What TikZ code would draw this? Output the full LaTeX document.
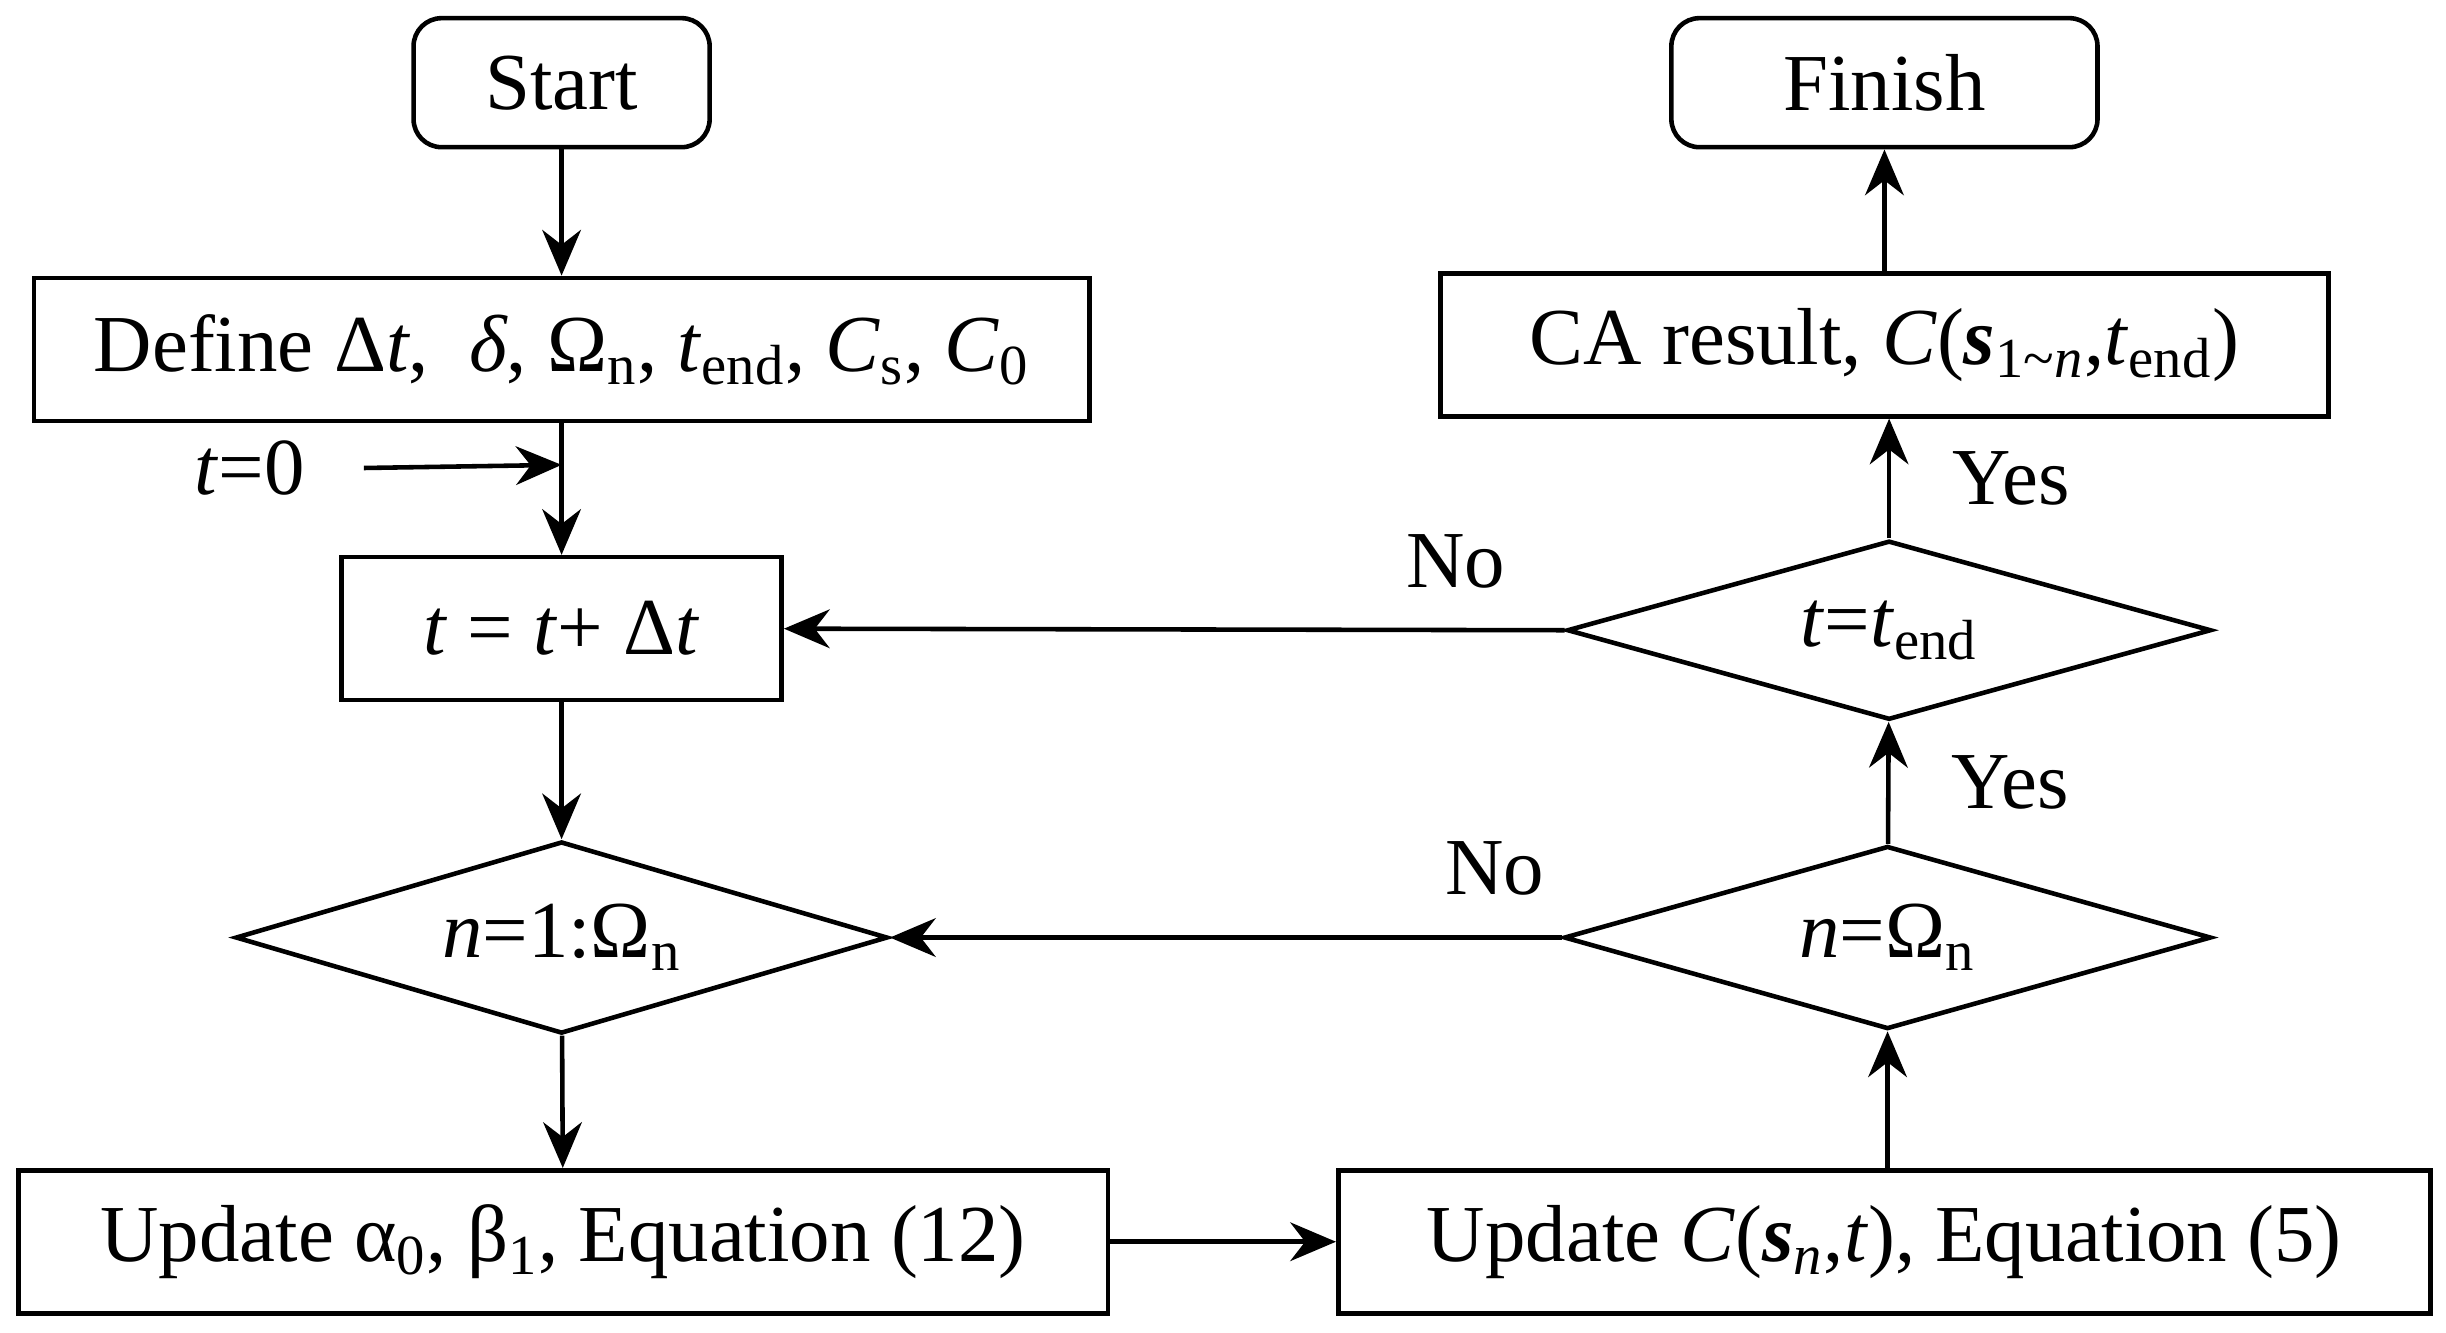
\documentclass[tikz,border=0pt]{standalone}
\usepackage{fontspec}
\setmainfont{Liberation Serif}
\usetikzlibrary{shapes.geometric,arrows.meta}
\newcommand{\ii}[1]{\textit{#1}}
\newcommand{\sbs}[1]{\textsubscript{#1}}
\begin{document}
\begin{tikzpicture}[x=0.0156cm,y=-0.0156cm,
  every node/.style={font=\fontsize{23}{27}\selectfont},
  box/.style={draw,line width=1.3pt,inner sep=0pt,minimum height=1.43cm},
  rbox/.style={box,rounded corners=8pt,minimum height=1.29cm},
  dia/.style={draw,line width=1.3pt,diamond,inner sep=0pt,aspect=3.6},
  arr/.style={line width=1.3pt,-{Stealth[length=13pt,width=11pt]}},
  lab/.style={draw=none}]
\useasboundingbox (0,0) rectangle (1568,854);
\node[rbox,minimum width=2.96cm] (start) at (360,53) {Start};
\node[rbox,minimum width=4.26cm] (finish) at (1208,53) {Finish};
\node[box,minimum width=10.55cm] (def) at (360,224) {Define Δ\ii{t}, \ \ii{δ}, Ω\sbs{n}, \ii{t}\sbs{end}, \ii{C}\sbs{s}, \ii{C}\sbs{0}};
\node[box,minimum width=8.88cm] (ca) at (1208,221) {CA result, \ii{C}(\textbf{\ii{s}}\sbs{1\textasciitilde\ii{n}},\ii{t}\sbs{end})};
\node (t0) at (160,300) {\ii{t}=0};
\coordinate (j) at (360,298);
\node[box,minimum width=4.4cm] (tb) at (360,403) {\ii{t} = \ii{t}+ Δ\ii{t}};
\node[dia,minimum width=6.44cm,minimum height=1.79cm] (tend) at (1211,404) {\ii{t}=\ii{t}\sbs{end}};
\node[dia,minimum width=6.52cm,minimum height=1.92cm] (n1) at (360,601) {\ii{n}=1:Ω\sbs{n}};
\node[dia,minimum width=6.47cm,minimum height=1.83cm] (nO) at (1210,601) {\ii{n}=Ω\sbs{n}};
\node[box,minimum width=10.89cm] (ua) at (361,796) {Update α\sbs{0}, β\sbs{1}, Equation (12)};
\node[box,minimum width=10.92cm] (uc) at (1208,796) {Update \ii{C}(\textbf{\ii{s}}\sbs{\ii{n}},\ii{t}), Equation (5)};
\draw[arr] (start) -- (def);
\draw[arr] (def) -- (tb);
\draw[arr] (t0.east) ++(30,0) coordinate (t0e) (t0e) -- (j);
\draw[arr] (tb) -- (n1);
\draw[arr] (n1) -- (ua);
\draw[arr] (ua) -- (uc);
\draw[arr] (uc.north -| nO) -- (nO);
\draw[arr] (nO) -- node[lab,right=14pt] {Yes} (tend);
\draw[arr] (tend) -- node[lab,right=14pt] {Yes} (ca.south -| tend);
\draw[arr] (ca.north -| finish) -- (finish);
\draw[arr] (nO.west) -- node[lab,above=8pt,pos=0.1] {No} (n1.east);
\draw[arr] (tend.west) -- node[lab,above=8pt,pos=0.14] {No} (tb.east);
\end{tikzpicture}
\end{document}
